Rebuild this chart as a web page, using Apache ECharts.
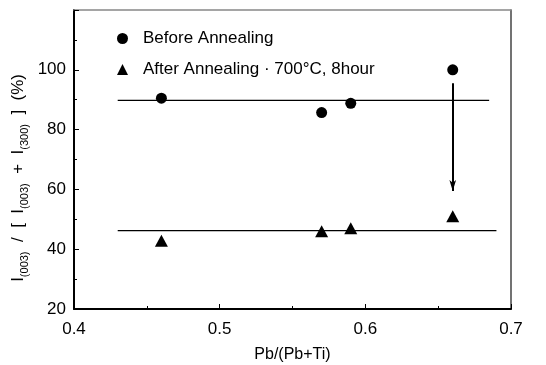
<!DOCTYPE html>
<html>
<head>
<meta charset="utf-8">
<script src="https://cdn.jsdelivr.net/npm/echarts@6/dist/echarts.min.js"></script>
<style>
html,body{margin:0;padding:0;background:#fff;}
#chart{width:546px;height:365px;}
</style>
</head>
<body>
<div id="chart"></div>
<script>
// ---- data ----
var xBefore = [0.46, 0.57, 0.59, 0.66];
var yBefore = [90.5, 85.7, 88.8, 100];
var xAfter = [0.46, 0.57, 0.59, 0.66];
var yAfter = [42.8, 46.0, 47.0, 51];
var fitBeforeX = [0.43, 0.685];
var fitBeforeY = [89.8, 89.8];
var fitAfterX = [0.43, 0.69];
var fitAfterY = [46.2, 46.2];
var arrowX = [0.66, 0.66];
var arrowY = [95.5, 59.5];
var xTicks = [0.4, 0.5, 0.6, 0.7];
var yTicks = [20, 40, 60, 80, 100];
var seriesNames = ['Before Annealing', 'After Annealing \u00b7 700\u00b0C, 8hour'];

function pairs(xs, ys){ return xs.map(function(x,i){ return [x, ys[i]]; }); }

var FONT = 'Liberation Sans';
var chart = echarts.init(document.getElementById('chart'), null, {renderer:'canvas'});
var option = {
  animation: false,
  backgroundColor: '#fff',
  textStyle: {fontFamily: FONT, color: '#000'},
  grid: {left: 74, right: 35, top: 10, bottom: 56, containLabel: false, outerBoundsMode: 'none'},
  legend: {
    orient: 'vertical', left: 112, top: 25, itemGap: 14,
    itemWidth: 11, itemHeight: 11,
    data: [{name: seriesNames[0], icon: 'circle'}, {name: seriesNames[1], icon: 'triangle'}],
    textStyle: {fontFamily: FONT, fontSize: 17, color: '#000', padding: [0,0,0,10], lineHeight: 17}
  },
  xAxis: [{
    type: 'value', min: 0.4, max: 0.7, interval: 0.1,
    name: 'Pb/(Pb+Ti)', nameLocation: 'middle', nameGap: 38,
    nameTextStyle: {fontFamily: FONT, fontSize: 16, color: '#000'},
    axisLine: {lineStyle: {color: '#000', width: 2}},
    axisTick: {inside: true, length: 5, lineStyle: {color: '#000', width: 1}},
    minorTick: {show: true, splitNumber: 2, length: 3, lineStyle: {color: '#000'}},
    splitLine: {show: false},
    axisLabel: {fontFamily: FONT, fontSize: 17, color: '#000', margin: 12,
      formatter: function(v){ var t = xTicks.filter(function(k){return Math.abs(k-v)<1e-6;}); return t.length ? t[0].toFixed(1) : ''; }}
  }, {
    type: 'value', position: 'top', min: 0.4, max: 0.7, interval: 0.1,
    axisLine: {show: true, onZero: false, lineStyle: {color: '#888', width: 1.5}},
    axisTick: {show: false}, axisLabel: {show: false}, splitLine: {show: false}
  }],
  yAxis: [{
    type: 'value', min: 20, max: 120, interval: 20,
    axisLine: {show: true, lineStyle: {color: '#000', width: 2}},
    axisTick: {inside: true, length: 5, lineStyle: {color: '#000', width: 1}},
    minorTick: {show: true, splitNumber: 2, length: 3, lineStyle: {color: '#000'}},
    splitLine: {show: false},
    axisLabel: {fontFamily: FONT, fontSize: 17, color: '#000', margin: 8,
      formatter: function(v){ return yTicks.indexOf(v) >= 0 ? String(v) : ''; }}
  }, {
    type: 'value', position: 'right', min: 20, max: 120, interval: 20,
    axisLine: {show: true, onZero: false, lineStyle: {color: '#444', width: 1.5}},
    axisTick: {show: false}, axisLabel: {show: false}, splitLine: {show: false}
  }],
  graphic: [{
    type: 'text', left: 7, top: 74, rotation: Math.PI/2,
    style: {
      text: '{m|I}{s|(003)}{m|  /  [  I}{s|(003)}{m|  +  I}{s|(300)}{m|  ]  (%)}',
      fill: '#000', font: '17px ' + FONT,
      rich: {
        m: {fontFamily: FONT, fontSize: 17, lineHeight: 17, fill: '#000'},
        s: {fontFamily: FONT, fontSize: 11, lineHeight: 11, padding: [12,0,0,0], fill: '#000'}
      }
    }
  }],
  series: [
    {name: 'fitBefore', type: 'line', data: pairs(fitBeforeX, fitBeforeY), symbol: 'none',
     lineStyle: {color: '#000', width: 1.3}, silent: true, z: 1},
    {name: 'fitAfter', type: 'line', data: pairs(fitAfterX, fitAfterY), symbol: 'none',
     lineStyle: {color: '#000', width: 1.3}, silent: true, z: 1},
    {name: 'arrow', type: 'line', data: [], silent: true,
     markLine: {silent: true, symbol: ['none', 'arrow'], symbolSize: [5, 11], label: {show: false},
       lineStyle: {color: '#000', width: 2, type: 'solid'},
       data: [[{coord: [arrowX[0], arrowY[0]]}, {coord: [arrowX[1], arrowY[1]]}]]}},
    {name: seriesNames[0], type: 'scatter', data: pairs(xBefore, yBefore), symbol: 'circle', symbolSize: 11,
     itemStyle: {color: '#000', opacity: 1}, z: 3},
    {name: seriesNames[1], type: 'scatter', data: pairs(xAfter, yAfter), symbol: 'triangle', symbolSize: [13, 12],
     itemStyle: {color: '#000', opacity: 1}, z: 3}
  ]
};
chart.setOption(option);
</script>
</body>
</html>
